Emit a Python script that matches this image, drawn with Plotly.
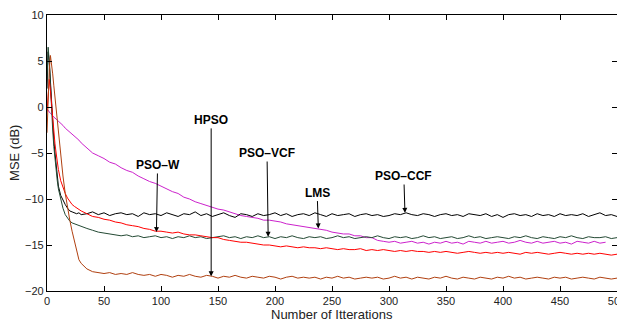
import plotly.graph_objects as go

iterations = [0, 1, 2, 3, 4, 5, 6, 7, 8, 9, 10, 12, 14, 16, 18, 20, 22, 24, 26, 28, 30] + list(range(35, 505, 5))

pso_ccf = [2.0, 6.0, 5.0, 2.5, 0.0, -2.0, -3.6, -5.0, -6.5, -7.7, -8.6, -9.6, -10.2, -10.6, -11.0, -11.3, -11.4, -11.5, -11.6, -11.5, -11.7,
           -11.6, -11.4, -11.7, -11.5, -11.8, -11.6, -11.5, -11.7, -11.6, -11.9,
           -11.5, -11.7, -11.6, -11.8, -11.5, -11.7, -11.9, -11.6, -11.7, -11.4,
           -11.8, -11.6, -11.9, -11.7, -11.5, -11.8, -12.0, -11.6, -11.7, -11.9,
           -11.6, -11.8, -11.7, -11.5, -11.8, -11.6, -11.9, -11.7, -11.6, -11.8,
           -11.5, -11.7, -11.9, -11.6, -11.8, -11.7, -11.6, -11.9, -11.7, -11.6,
           -11.8, -11.7, -11.9, -11.8, -11.6, -11.7, -11.5, -11.7, -11.8, -11.6,
           -11.7, -11.9, -11.7, -11.6, -11.8, -11.7, -11.9, -11.6, -11.7, -11.8,
           -11.6, -11.9, -11.7, -12.0, -11.7, -11.6, -11.8, -11.7, -11.9, -11.6,
           -11.8, -11.7, -11.9, -11.6, -11.8, -11.7, -11.8, -11.6, -11.9, -11.7,
           -11.5, -11.8, -11.7, -11.9]

pso_vcf = [3.0, 6.5, 5.0, 2.0, -0.5, -2.5, -4.3, -5.8, -7.0, -8.0, -8.9, -10.1, -11.0, -11.7, -12.1, -12.4, -12.6, -12.7, -12.8, -12.9, -13.0,
           -13.2, -13.4, -13.6, -13.7, -13.8, -13.9, -14.0, -13.9, -14.1, -14.0,
           -14.2, -14.1, -14.0, -14.2, -14.1, -14.3, -14.1, -14.2, -14.0, -14.2,
           -14.1, -14.3, -14.2, -14.1, -14.0, -14.2, -14.1, -14.3, -14.1, -14.2,
           -14.0, -14.2, -14.1, -14.3, -14.1, -14.2, -14.0, -14.2, -14.3, -14.1,
           -14.2, -14.1, -14.3, -14.2, -14.0, -14.2, -14.1, -14.3, -14.2, -14.1,
           -14.2, -14.0, -14.2, -14.3, -14.1, -14.2, -14.1, -14.3, -14.2, -14.0,
           -14.2, -14.1, -14.3, -14.2, -14.1, -14.3, -14.2, -14.0, -14.2, -14.1,
           -14.3, -14.2, -14.1, -14.2, -14.3, -14.1, -14.2, -14.0, -14.2, -14.3,
           -14.1, -14.2, -14.3, -14.1, -14.2, -14.0, -14.2, -14.3, -14.1, -14.2,
           -14.2, -14.1, -14.3, -14.2]

pso_w = [-0.5, 1.5, 3.0, 1.8, 0.2, -1.3, -2.8, -4.0, -5.0, -6.0, -6.8, -8.0, -8.8, -9.4, -9.9, -10.3, -10.6, -10.8, -11.0, -11.2, -11.3,
         -11.6, -11.9, -12.0, -12.2, -12.3, -12.5, -12.6, -12.8, -12.9, -13.0,
         -13.2, -13.3, -13.5, -13.5, -13.6, -13.7, -13.6, -13.8, -13.9, -13.9,
         -14.0, -14.1, -14.2, -14.2, -14.4, -14.5, -14.6, -14.7, -14.7, -14.8,
         -14.9, -15.0, -15.0, -15.1, -15.2, -15.1, -15.2, -15.3, -15.2, -15.3,
         -15.3, -15.4, -15.3, -15.4, -15.5, -15.4, -15.5, -15.5, -15.4, -15.6,
         -15.5, -15.6, -15.5, -15.6, -15.7, -15.6, -15.7, -15.6, -15.7, -15.7,
         -15.8, -15.7, -15.8, -15.7, -15.8, -15.9, -15.8, -15.7, -15.8, -15.9,
         -15.8, -15.9, -15.8, -15.9, -15.8, -15.9, -16.0, -15.8, -15.9, -15.8,
         -15.9, -16.0, -15.9, -15.8, -15.9, -16.0, -15.9, -16.0, -15.9, -16.0,
         -15.9, -16.0, -16.1, -16.0]

hpso = [-2.8, 1.0, 4.0, 5.6, 4.8, 3.6, 2.3, 1.0, -0.3, -1.6, -2.9, -5.3, -7.5, -9.4, -11.0, -12.3, -13.5, -14.5, -15.8, -16.6, -17.0,
        -17.6, -17.9, -18.0, -18.1, -18.0, -18.2, -18.1, -18.2, -18.0, -18.2,
        -18.3, -18.2, -18.4, -18.2, -18.3, -18.5, -18.3, -18.4, -18.2, -18.4,
        -18.5, -18.3, -18.4, -18.6, -18.4, -18.5, -18.3, -18.5, -18.6, -18.4,
        -18.5, -18.6, -18.4, -18.5, -18.7, -18.5, -18.4, -18.6, -18.5, -18.6,
        -18.5, -18.7, -18.5, -18.6, -18.4, -18.6, -18.5, -18.7, -18.6, -18.5,
        -18.6, -18.5, -18.7, -18.6, -18.4, -18.6, -18.5, -18.7, -18.5, -18.6,
        -18.7, -18.5, -18.6, -18.4, -18.6, -18.7, -18.5, -18.6, -18.7, -18.5,
        -18.6, -18.7, -18.5, -18.6, -18.4, -18.6, -18.5, -18.7, -18.6, -18.5,
        -18.6, -18.7, -18.5, -18.6, -18.5, -18.7, -18.6, -18.5, -18.6, -18.7,
        -18.5, -18.6, -18.7, -18.6]

lms = [-0.2, -0.4, -0.5, -0.7, -0.8, -1.0, -1.1, -1.2, -1.3, -1.5, -1.6, -1.8, -2.0, -2.3, -2.5, -2.7, -2.9, -3.1, -3.4, -3.6, -3.9,
       -4.5, -5.0, -5.3, -5.6, -6.0, -6.2, -6.6, -6.9, -7.1, -7.5,
       -7.8, -8.1, -8.3, -8.6, -8.9, -9.2, -9.4, -9.8, -10.0, -10.3,
       -10.5, -10.7, -10.9, -11.1, -11.2, -11.4, -11.6, -11.8, -11.9, -12.0,
       -12.1, -12.3, -12.3, -12.4, -12.5, -12.7, -12.8, -12.9, -13.0, -13.1,
       -13.2, -13.3, -13.4, -13.6, -13.7, -13.8, -13.8, -14.0, -14.0, -14.2,
       -14.2, -14.5, -14.6, -14.7, -14.6, -14.8, -14.7, -14.6, -14.8, -14.7,
       -14.9, -14.7, -14.8, -14.6, -14.8, -14.7, -14.9, -14.6, -14.7, -14.8,
       -14.6, -14.8, -14.7, -14.6, -14.8, -14.7, -14.5, -14.7, -14.8, -14.6,
       -14.8, -14.7, -14.6, -14.8, -14.7, -14.9, -14.6, -14.7, -14.8, -14.6,
       -14.8, -14.7]

series = [
    ("LMS", lms, "#cc22cc"),
    ("PSO-CCF", pso_ccf, "#000000"),
    ("PSO-VCF", pso_vcf, "#244a34"),
    ("PSO-W", pso_w, "#ff0000"),
    ("HPSO", hpso, "#b04010"),
]

# annotation labels: (text, head x, head y, text x, text y)
labels = [
    ("PSO\u2013W", 96, -13.6, 97, -6.3),
    ("HPSO", 144, -18.4, 144, -1.4),
    ("PSO\u2013VCF", 194, -14.1, 193, -5.0),
    ("LMS", 238, -13.2, 237, -9.3),
    ("PSO\u2013CCF", 314, -11.5, 313, -7.5),
]

FONT = "Liberation Sans, Arial"

fig = go.Figure()
for name, vals, color in series:
    fig.add_trace(go.Scatter(x=iterations[:len(vals)], y=vals, mode="lines", name=name,
                             line=dict(color=color, width=1)))

for text, hx, hy, tx, ty in labels:
    fig.add_annotation(x=hx, y=hy, ax=tx, ay=ty, axref="x", ayref="y", xref="x", yref="y",
                       text="<b>" + text + "</b>", showarrow=True, arrowhead=2, arrowsize=1,
                       arrowwidth=1, arrowcolor="black", standoff=0,
                       font=dict(family=FONT, size=12, color="black"))

# axis titles
fig.add_annotation(x=0.5, y=-0.052, xref="paper", yref="paper", yanchor="top", xanchor="center",
                   text="Number of Itterations", showarrow=False,
                   font=dict(family=FONT, size=13, color="#222"))
fig.add_annotation(x=-0.058, y=0.5, xref="paper", yref="paper", xanchor="center", yanchor="middle",
                   text="MSE (dB)", textangle=-90, showarrow=False,
                   font=dict(family=FONT, size=13, color="#222"))

axis_common = dict(showline=True, linecolor="black", linewidth=1.3, mirror="ticks", ticks="inside",
                   ticklen=5, tickcolor="black", showgrid=False, zeroline=False, automargin=False,
                   ticklabeloverflow="allow",
                   tickfont=dict(family=FONT, size=11, color="#222"))

# page body adds an 8px offset, so the figure is sized to end at the window edge
fig.update_layout(
    width=617, height=318,
    margin=dict(l=39, r=8, t=7, b=35),
    paper_bgcolor="white", plot_bgcolor="white",
    showlegend=False,
    xaxis=dict(range=[0, 500], dtick=50, tick0=0, **axis_common),
    yaxis=dict(range=[-20, 10], dtick=5, tick0=-20, **axis_common),
)

fig.write_html("out.html")
